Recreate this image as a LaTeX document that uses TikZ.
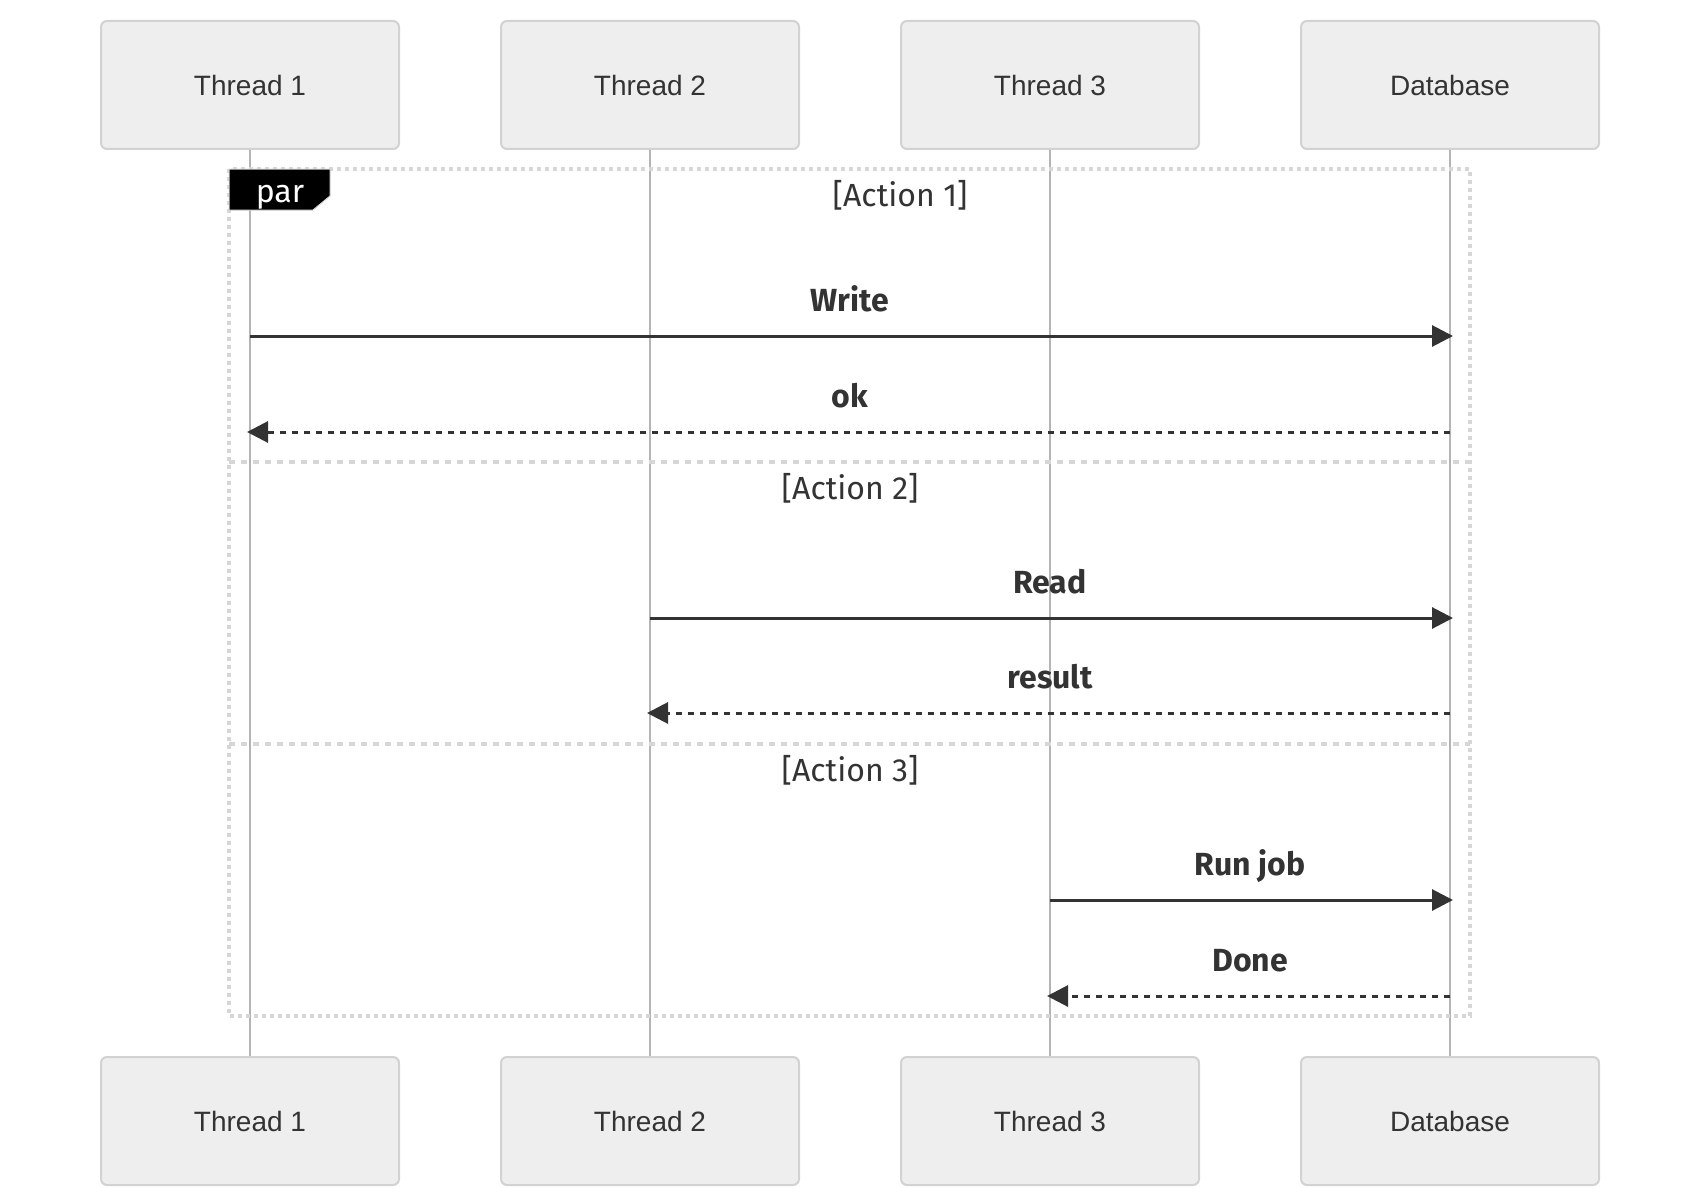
\documentclass[tikz,border=0pt]{standalone}
\usepackage{fontspec}
\setmainfont{Liberation Sans}
\newfontfamily\msgfont{Fira Sans}
\usetikzlibrary{arrows.meta}
\definecolor{actfill}{RGB}{238,238,238}
\definecolor{actdraw}{RGB}{210,210,210}
\definecolor{life}{RGB}{180,180,180}
\definecolor{ink}{RGB}{51,51,51}
\definecolor{frm}{RGB}{214,214,214}
\begin{document}
\begin{tikzpicture}[x=1pt,y=-1pt,
  actor/.style={draw=actdraw, line width=2pt, fill=actfill, rounded corners=6pt,
    minimum width=298pt, minimum height=128pt, inner sep=0pt, text=ink,
    font=\fontsize{28}{34}\selectfont},
  lifeline/.style={draw=life, line width=2pt},
  msgline/.style={draw=ink, line width=3pt, -{Triangle[length=21pt,width=21pt]}, shorten >=-3pt},
  retline/.style={draw=ink, line width=3pt, dash pattern=on 6pt off 6pt,
    -{Triangle[length=21pt,width=21pt]}, shorten >=-3pt},
  msglabel/.style={text=ink, anchor=base, inner sep=0pt,
    font=\msgfont\bfseries\fontsize{32}{38}\selectfont},
  seclabel/.style={text=ink, anchor=base, inner sep=0pt,
    font=\msgfont\fontsize{32}{38}\selectfont},
  outerframe/.style={draw=frm, line width=4pt, dash pattern=on 4pt off 4pt},
  divider/.style={draw=frm, line width=3.5pt, dash pattern=on 6pt off 6pt}]
\useasboundingbox (0,0) rectangle (1700,1188);

% actors
\node[actor] (t1t) at (250,85) {Thread 1};
\node[actor] (t2t) at (650,85) {Thread 2};
\node[actor] (t3t) at (1050,85) {Thread 3};
\node[actor] (dbt) at (1450,85) {Database};
\node[actor] (t1b) at (250,1121) {Thread 1};
\node[actor] (t2b) at (650,1121) {Thread 2};
\node[actor] (t3b) at (1050,1121) {Thread 3};
\node[actor] (dbb) at (1450,1121) {Database};

% lifelines
\draw[lifeline] (t1t.south) -- (t1b.north);
\draw[lifeline] (t2t.south) -- (t2b.north);
\draw[lifeline] (t3t.south) -- (t3b.north);
\draw[lifeline] (dbt.south) -- (dbb.north);

% par frame
\coordinate (fnw) at (229,169);
\coordinate (fse) at (1470,1016);
\draw[outerframe] (fnw) rectangle (fse);
\coordinate (d1l) at (229,462);
\coordinate (d1r) at (1470,462);
\coordinate (d2l) at (229,744);
\coordinate (d2r) at (1470,744);
\draw[divider] (d1l) -- (d1r);
\draw[divider] (d2l) -- (d2r);
\fill[black, draw=frm, line width=1pt] (229,169) -- (330,169) -- (330,196) -- (313,210) -- (229,210) -- cycle;
\node[text=white, anchor=base, inner sep=0pt, font=\msgfont\fontsize{32}{38}\selectfont] (parlbl) at (280,202) {par};

% section labels
\node[seclabel] (s1) at (900,206) {[Action 1]};
\node[seclabel] (s2) at (850,499) {[Action 2]};
\node[seclabel] (s3) at (850,781) {[Action 3]};

% message anchor points
\coordinate (m1a) at (250,336);  \coordinate (m1b) at (1450,336);
\coordinate (m2a) at (1450,432); \coordinate (m2b) at (250,432);
\coordinate (m3a) at (650,618);  \coordinate (m3b) at (1450,618);
\coordinate (m4a) at (1450,713); \coordinate (m4b) at (650,713);
\coordinate (m5a) at (1050,900); \coordinate (m5b) at (1450,900);
\coordinate (m6a) at (1450,996); \coordinate (m6b) at (1050,996);

\draw[msgline] (m1a) -- (m1b);
\draw[retline] (m2a) -- (m2b);
\draw[msgline] (m3a) -- (m3b);
\draw[retline] (m4a) -- (m4b);
\draw[msgline] (m5a) -- (m5b);
\draw[retline] (m6a) -- (m6b);

\node[msglabel] (l1) at (850,311) {Write};
\node[msglabel] (l2) at (850,407) {ok};
\node[msglabel] (l3) at (1050,593) {Read};
\node[msglabel] (l4) at (1050,688) {result};
\node[msglabel] (l5) at (1250,875) {Run job};
\node[msglabel] (l6) at (1250,971) {Done};
\end{tikzpicture}
\end{document}
